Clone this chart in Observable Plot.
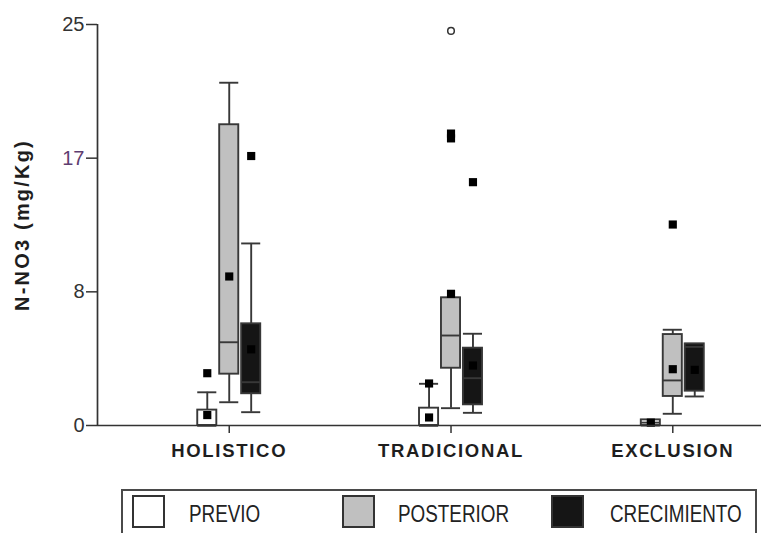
<!DOCTYPE html>
<html>
<head>
<meta charset="utf-8">
<script src="https://cdn.jsdelivr.net/npm/d3@7"></script>
<script src="https://cdn.jsdelivr.net/npm/@observablehq/plot@0.6"></script>
<style>
  html, body { margin: 0; padding: 0; background: #fff; width: 761px; height: 533px; overflow: hidden; }
  #chart { position: absolute; left: 0; top: 0; }
  #chart svg { display: block; }
  #chart [aria-label="x-axis tick label"] text { letter-spacing: 1.7px; }
  .legend { position: absolute; left: 121px; top: 489px; width: 636px; height: 70px;
            box-sizing: border-box; border: 2px solid #4a4a4a; background: #fff; }
  .legend .sw { position: absolute; top: 4px; width: 33px; height: 33px; box-sizing: border-box;
                border: 2px solid #333; }
  .legend .lb { position: absolute; top: 7px; line-height: 33px; font-size: 23px; color: #222;
                font-family: "Liberation Sans", Arial, sans-serif; white-space: nowrap;
                transform: scaleX(0.82); transform-origin: 0 50%; }
</style>
</head>
<body>
<div id="chart"></div>
<div class="legend" id="legend"></div>
<script>
// Nitrate (N-NO3, mg/Kg) by management system and sampling moment
const groups = ["HOLISTICO", "TRADICIONAL", "EXCLUSION"];
const series = ["PREVIO", "POSTERIOR", "CRECIMIENTO"];
const seriesFill = ["#ffffff", "#c0c0c0", "#151515"];

// Box statistics: one row per group, one column per series
const whiskerLow  = [[0,    1.45,  0.83], [0,    1.08, 0.79], [0,    0.73, 1.81]];
const quartile1   = [[0,    3.20,  1.98], [0,    3.57, 1.29], [0,    1.81, 2.14]];
const median      = [[0,    5.19,  2.70], [0,    5.61, 2.95], [0.18, 2.81, 4.90]];
const quartile3   = [[0.96, 18.75, 6.34], [1.08, 7.96, 4.82], [0.35, 5.67, 5.09]];
const whiskerHigh = [[2.07, 21.37, 11.35],[2.60, 7.96, 5.72], [0.35, 5.97, 5.09]];
const meanValue   = [[0.65, 9.29,  4.75], [0.50, 8.21, 3.74], [0.18, 3.51, 3.47]];

// Individual points beyond the whiskers
const outlierGroup  = ["HOLISTICO", "HOLISTICO", "TRADICIONAL", "TRADICIONAL", "TRADICIONAL", "TRADICIONAL", "EXCLUSION"];
const outlierSeries = ["PREVIO", "CRECIMIENTO", "PREVIO", "POSTERIOR", "POSTERIOR", "CRECIMIENTO", "POSTERIOR"];
const outlierValue  = [3.26, 16.8, 2.62, 18.2, 17.9, 15.17, 12.53];
const extremeGroup  = ["TRADICIONAL"];
const extremeSeries = ["POSTERIOR"];
const extremeValue  = [24.6];

// Y axis ticks divide the range in thirds; labels are rounded
const yTickValues = [0, 25 / 3, 50 / 3, 25];
const yTickLabels = ["0", "8", "17", "25"];
const yLabel = "N-NO3 (mg/Kg)";

// layout within each group (x units: one group = 1)
const offsets = [-0.099, 0, 0.099];
const halfW = 0.043;
const xMin = -0.594, xMax = 2.4;
const pos = (g, s) => groups.indexOf(g) + offsets[series.indexOf(s)];

const boxes = groups.flatMap((g, i) => series.map((s, j) => ({
  group: g, series: s, pos: i + offsets[j],
  lo: whiskerLow[i][j], q1: quartile1[i][j], med: median[i][j],
  q3: quartile3[i][j], hi: whiskerHigh[i][j], mean: meanValue[i][j]
})));
const outliers = outlierValue.map((v, k) => ({pos: pos(outlierGroup[k], outlierSeries[k]), value: v}));
const extremes = extremeValue.map((v, k) => ({pos: pos(extremeGroup[k], extremeSeries[k]), value: v}));

const x1 = d => d.pos - halfW, x2 = d => d.pos + halfW;
const line = {stroke: "#383838", strokeWidth: 1.9};

const chart = Plot.plot({
  width: 761,
  height: 480,
  marginLeft: 97,
  marginRight: 0,
  marginTop: 24,
  marginBottom: 55,
  style: {fontFamily: "'Liberation Sans', Arial, sans-serif", color: "#333", background: "#fff"},
  x: {domain: [xMin, xMax], axis: null},
  y: {domain: [0, 25], axis: null},
  color: {domain: series, range: seriesFill},
  marks: [
    // whiskers
    Plot.ruleX(boxes, {x: "pos", y1: "lo", y2: "q1", ...line}),
    Plot.ruleX(boxes, {x: "pos", y1: "q3", y2: "hi", ...line}),
    Plot.ruleY(boxes, {y: "lo", x1, x2, ...line}),
    Plot.ruleY(boxes, {y: "hi", x1, x2, ...line}),
    // boxes and medians
    Plot.rect(boxes, {x1, x2, y1: "q1", y2: "q3", fill: "series", ...line}),
    Plot.ruleY(boxes, {y: "med", x1, x2, ...line}),
    // means and outliers
    Plot.dot(boxes, {x: "pos", y: "mean", symbol: "square", r: 4.6, fill: "#000"}),
    Plot.dot(outliers, {x: "pos", y: "value", symbol: "square", r: 4.6, fill: "#000"}),
    Plot.dot(extremes, {x: "pos", y: "value", symbol: "circle", r: 3.3, fill: "#fff", stroke: "#333", strokeWidth: 1.5}),
    // axes
    Plot.ruleX([xMin], {y1: 0, y2: 25, stroke: "#333", strokeWidth: 1.7}),
    Plot.ruleY([0], {stroke: "#333", strokeWidth: 1.7}),
    Plot.axisY({ticks: yTickValues, tickFormat: (d, i) => yTickLabels[i], tickSize: 11, tickPadding: 2,
                fontSize: 20, label: null, strokeWidth: 1.5}),
    Plot.axisX({ticks: [0, 1, 2], tickFormat: i => groups[i], tickSize: 8, tickPadding: 10,
                fontSize: 18.5, fontWeight: "bold", fill: "#1e1e1e", label: null, strokeWidth: 1.5}),
    Plot.text([yLabel], {frameAnchor: "left", textAnchor: "middle", rotate: -90, dx: -75,
                         fontSize: 20, fontWeight: "bold", fill: "#1e1e1e"})
  ]
});

const svg = d3.select(chart);
svg.selectAll('[aria-label="y-axis tick label"] text')
  .filter(function () { return this.textContent === "17"; })
  .attr("fill", "#5e3d70");
svg.selectAll("text")
  .filter(function () { return this.textContent === yLabel; })
  .attr("letter-spacing", "2.2px");

document.getElementById("chart").appendChild(chart);

// legend below the chart
const legendLeft = [9, 219, 428];
const labelLeft = [66, 275, 487];
const legend = d3.select("#legend");
series.forEach((s, j) => {
  legend.append("div").attr("class", "sw")
    .style("left", legendLeft[j] + "px").style("background", seriesFill[j]);
  legend.append("div").attr("class", "lb")
    .style("left", labelLeft[j] + "px").text(s);
});
</script>
</body>
</html>
